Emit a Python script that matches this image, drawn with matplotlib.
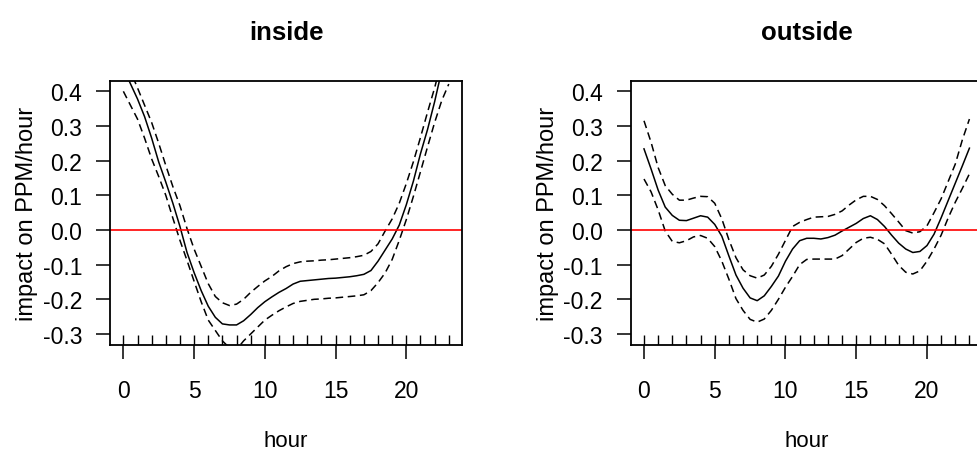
import matplotlib
matplotlib.use("Agg")
import matplotlib.pyplot as plt
import matplotlib.transforms as mtransforms

plt.rcParams['font.family'] = ['Liberation Sans', 'DejaVu Sans']
plt.rcParams['axes.unicode_minus'] = False

# hour of day, smooth read every half hour
hours = [0, 0.5, 1, 1.5, 2, 2.5, 3, 3.5, 4, 4.5, 5, 5.5, 6, 6.5, 7, 7.5, 8, 8.5,
         9, 9.5, 10, 10.5, 11, 11.5, 12, 12.5, 13, 13.5, 14, 14.5, 15, 15.5, 16, 16.5,
         17, 17.5, 18, 18.5, 19, 19.5, 20, 20.5, 21, 21.5, 22, 22.5, 23]

# inside: fitted smooth and upper / lower 2se bands
inside_fit = [0.466, 0.422, 0.378, 0.327, 0.265, 0.196, 0.138, 0.077, 0.01, -0.065,
              -0.123, -0.175, -0.22, -0.252, -0.271, -0.274, -0.274, -0.262, -0.244, -0.224,
              -0.207, -0.193, -0.18, -0.169, -0.156, -0.148, -0.146, -0.144, -0.142, -0.14,
              -0.139, -0.137, -0.135, -0.132, -0.128, -0.117, -0.09, -0.058, -0.026, 0.014,
              0.073, 0.141, 0.22, 0.29, 0.37, 0.46, 0.55]
inside_upper = [0.506, 0.458, 0.41, 0.36, 0.31, 0.25, 0.186, 0.125, 0.07, 0.004,
                -0.055, -0.105, -0.155, -0.192, -0.21, -0.218, -0.214, -0.2, -0.18, -0.163,
                -0.147, -0.134, -0.118, -0.106, -0.097, -0.092, -0.09, -0.089, -0.087, -0.086,
                -0.084, -0.082, -0.08, -0.077, -0.073, -0.062, -0.04, -0.003, 0.032, 0.077,
                0.134, 0.197, 0.267, 0.34, 0.41, 0.49, 0.57]
inside_lower = [0.40, 0.36, 0.32, 0.265, 0.205, 0.154, 0.10, 0.034, -0.03, -0.088,
                -0.148, -0.207, -0.26, -0.29, -0.32, -0.34, -0.345, -0.32, -0.30, -0.28,
                -0.26, -0.246, -0.233, -0.222, -0.212, -0.206, -0.203, -0.2, -0.199, -0.197,
                -0.196, -0.194, -0.192, -0.19, -0.187, -0.175, -0.152, -0.124, -0.085, -0.03,
                0.03, 0.097, 0.168, 0.24, 0.31, 0.373, 0.421]

# outside
outside_fit = [0.234, 0.176, 0.115, 0.066, 0.042, 0.028, 0.027, 0.034, 0.041, 0.037,
               0.016, -0.018, -0.075, -0.13, -0.168, -0.196, -0.204, -0.19, -0.163, -0.133,
               -0.09, -0.055, -0.031, -0.024, -0.024, -0.026, -0.022, -0.015, -0.003, 0.008,
               0.019, 0.033, 0.041, 0.03, 0.01, -0.015, -0.038, -0.055, -0.065, -0.062,
               -0.045, -0.012, 0.035, 0.085, 0.135, 0.185, 0.236]
outside_upper = [0.315, 0.253, 0.18, 0.128, 0.103, 0.086, 0.086, 0.092, 0.097, 0.096,
                 0.077, 0.032, -0.028, -0.08, -0.115, -0.132, -0.139, -0.13, -0.105, -0.07,
                 -0.03, 0.01, 0.022, 0.03, 0.037, 0.038, 0.039, 0.045, 0.055, 0.072,
                 0.087, 0.097, 0.097, 0.088, 0.07, 0.047, 0.023, -0.002, -0.009, -0.005,
                 0.012, 0.05, 0.09, 0.14, 0.19, 0.26, 0.32]
outside_lower = [0.147, 0.11, 0.058, -0.003, -0.033, -0.037, -0.031, -0.02, -0.016, -0.024,
                 -0.048, -0.09, -0.142, -0.198, -0.232, -0.258, -0.266, -0.257, -0.232, -0.2,
                 -0.165, -0.134, -0.1, -0.085, -0.084, -0.084, -0.084, -0.084, -0.074, -0.055,
                 -0.036, -0.024, -0.021, -0.027, -0.04, -0.07, -0.102, -0.122, -0.127, -0.118,
                 -0.09, -0.055, -0.015, 0.035, 0.08, 0.12, 0.162]

# observed hours for the rug
rug_hours = list(range(24))

y_ticks = [-0.3, -0.2, -0.1, 0.0, 0.1, 0.2, 0.3, 0.4]
x_ticks = [0, 5, 10, 15, 20]

fig = plt.figure(figsize=(9.77, 4.52), dpi=100)
ax1 = fig.add_axes([0.1125, 0.2352, 0.3606, 0.584])
ax2 = fig.add_axes([0.6454, 0.2352, 0.3606, 0.584])

panels = [(ax1, 'inside', inside_fit, inside_upper, inside_lower),
          (ax2, 'outside', outside_fit, outside_upper, outside_lower)]

for ax, title, fit, up, lo in panels:
    ax.plot(hours, fit, color='black', lw=1.1)
    ax.plot(hours, up, color='black', lw=1.1, dashes=(5, 3))
    ax.plot(hours, lo, color='black', lw=1.1, dashes=(5, 3))
    ax.axhline(0, color='red', lw=1.2)

    # rug along the bottom
    trans = mtransforms.blended_transform_factory(ax.transData, ax.transAxes)
    ax.vlines(rug_hours, 0, 0.038, color='black', lw=1.0, transform=trans)

    ax.set_xlim(-0.95, 23.95)
    ax.set_ylim(-0.331, 0.4306)
    ax.set_xticks(x_ticks)
    ax.set_yticks(y_ticks)
    ax.set_yticklabels([f'{v:.1f}' for v in y_ticks])
    ax.tick_params(direction='out', length=10, width=1.1, labelsize=16.5, color='black')
    ax.tick_params(axis='x', pad=15)
    ax.tick_params(axis='y', pad=10)
    for s in ax.spines.values():
        s.set_linewidth(1.3)

    ax.set_title(title, fontsize=18.5, fontweight='bold', pad=30)
    ax.set_xlabel('hour', fontsize=16, labelpad=20)
    ax.set_ylabel('impact on PPM/hour', fontsize=17, labelpad=3)

fig.savefig('out.png', dpi=100)
